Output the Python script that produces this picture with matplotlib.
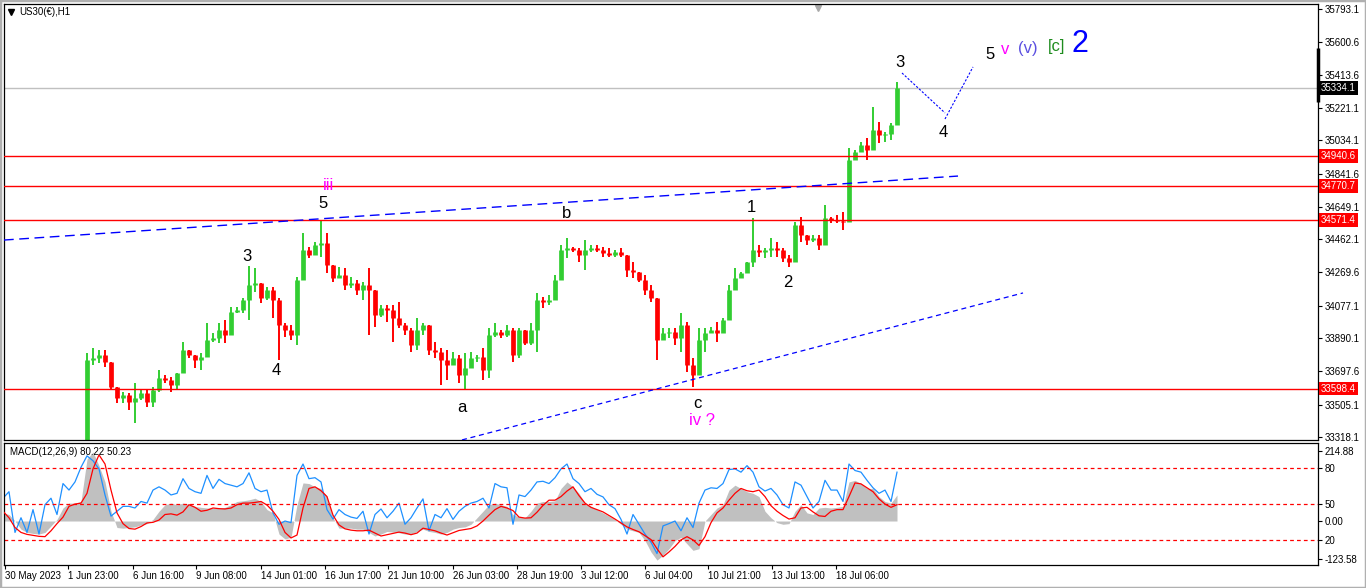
import numpy as np
import matplotlib
matplotlib.use("Agg")
from matplotlib import pyplot as plt
from matplotlib.patches import Rectangle

plt.rcParams['font.family'] = ['Liberation Sans', 'DejaVu Sans']

# US30 H1 price, one bar per 6 hours (first 14 bars sit below the visible range)
closes = [
    33200, 33185, 33150, 33120, 33140, 33105, 33130, 33170, 33150, 33190,
    33215, 33235, 33245, 33260, 33763, 33775, 33792, 33752, 33607, 33543,
    33561, 33520, 33543, 33572, 33520, 33590, 33659, 33647, 33619, 33688,
    33821, 33792, 33763, 33780, 33879, 33890, 33937, 33908, 34041, 34052,
    34110, 34197, 34208, 34122, 34168, 34110, 33966, 33937, 33908, 34226,
    34399, 34370, 34428, 34440, 34313, 34237, 34255, 34197, 34208, 34168,
    34197, 34168, 34023, 34064, 34052, 34006, 33966, 33937, 33850, 33937,
    33966, 33821, 33812, 33763, 33734, 33775, 33676, 33717, 33775, 33780,
    33705, 33908, 33925, 33908, 33937, 33792, 33937, 33861, 33937, 34110,
    34099, 34110, 34226, 34399, 34411, 34399, 34370, 34399, 34411, 34399,
    34382, 34370, 34388, 34370, 34284, 34272, 34226, 34168, 34122, 33879,
    33919, 33927, 33890, 33966, 33734, 33676, 33879, 33919, 33937, 33919,
    33994, 34168, 34237, 34266, 34330, 34399, 34388, 34399, 34411, 34399,
    34353, 34330, 34544, 34486, 34457, 34469, 34428, 34584, 34573, 34566,
    34561, 34920, 34966, 35007, 34978, 35093, 35064, 35072, 35122, 35334,
]
highs = [
    33230, 33215, 33200, 33160, 33170, 33145, 33160, 33200, 33190, 33220,
    33245, 33265, 33270, 33285, 33804, 33833, 33821, 33821, 33734, 33590,
    33578, 33572, 33630, 33590, 33590, 33607, 33705, 33676, 33665, 33688,
    33867, 33821, 33792, 33804, 33977, 33919, 33977, 33994, 34070, 34070,
    34122, 34307, 34295, 34168, 34185, 34185, 34122, 33977, 33966, 34243,
    34498, 34417, 34446, 34573, 34498, 34301, 34301, 34295, 34243, 34226,
    34214, 34295, 34139, 34081, 34081, 34081, 34099, 33977, 33948, 34006,
    33977, 33966, 33867, 33833, 33821, 33809, 33792, 33804, 33809, 33792,
    33833, 33948, 33977, 33937, 33966, 33948, 33948, 33937, 33977, 34151,
    34127, 34139, 34255, 34428, 34469, 34417, 34411, 34457, 34428, 34428,
    34417, 34411, 34399, 34411, 34370, 34330, 34272, 34255, 34197, 34099,
    33948, 33948, 33948, 34035, 33983, 33775, 33948, 33948, 33954, 33983,
    34006, 34197, 34295, 34272, 34330, 34584, 34428, 34411, 34469, 34446,
    34411, 34370, 34561, 34590, 34486, 34486, 34486, 34660, 34590, 34602,
    34619, 34989, 34978, 35024, 35047, 35226, 35140, 35082, 35134, 35371,
]
lows = [
    33170, 33150, 33120, 33090, 33100, 33080, 33095, 33120, 33120, 33140,
    33180, 33200, 33215, 33225, 33250, 33734, 33746, 33723, 33590, 33514,
    33514, 33474, 33399, 33532, 33491, 33491, 33578, 33630, 33578, 33590,
    33746, 33775, 33717, 33705, 33838, 33867, 33861, 33861, 33937, 34035,
    34035, 33994, 34156, 34093, 34110, 34006, 33763, 33896, 33879, 33850,
    34341, 34353, 34370, 34359, 34266, 34214, 34243, 34168, 34180, 34139,
    34110, 33908, 33954, 34012, 33983, 33867, 33948, 33908, 33809, 33821,
    33908, 33792, 33775, 33619, 33647, 33752, 33630, 33595, 33734, 33752,
    33647, 33659, 33896, 33890, 33896, 33752, 33775, 33850, 33850, 33809,
    34064, 34081, 34139, 34255, 34353, 34388, 34330, 34284, 34388, 34388,
    34359, 34359, 34359, 34359, 34243, 34237, 34214, 34139, 34099, 33763,
    33890, 33890, 33850, 33809, 33694, 33607, 33676, 33809, 33919, 33867,
    33948, 34023, 34214, 34237, 34272, 34301, 34359, 34353, 34359, 34359,
    34330, 34301, 34330, 34446, 34428, 34446, 34399, 34544, 34555, 34555,
    34515, 34561, 34931, 34966, 34920, 35024, 35018, 35024, 35035, 35180,
]

# MACD panel, same bars
macd_hist = [
    25, 20, 0, -25, -35, -38, -40, -35, -15, 5,
    40, 55, 55, 60, 190, 212, 170, 120, 30, -20,
    -22, -20, -18, -12, -8, 5, 30, 50, 55, 50,
    55, 52, 45, 42, 40, 40, 38, 42, 50, 60,
    62, 65, 70, 60, 35, 25, -40, -55, -50, 50,
    117, 115, 105, 100, 75, 10, -22, -22, -22, -25,
    -25, -35, -46, -40, -32, -34, -36, -40, -40, -32,
    -25, -32, -35, -40, -35, -25, -20, -18, -10, 10,
    30, 50, 55, 50, 45, 20, 12, 10, 30, 55,
    60, 60, 62, 100, 120, 105, 85, 55, 45, 35,
    25, 15, 5, -10, -25, -30, -35, -60, -95, -120,
    -105, -85, -60, -50, -70, -90, -85, 0, 20, 40,
    50, 95, 110, 100, 90, 85, 75, 30, 10, -5,
    -10, -8, 30, 50, 25, 20, 40, 42, 40, 42,
    45, 120, 125, 115, 100, 100, 75, 60, 55, 80,
]
macd_signal = [
    30, 10, -20, -35, -41, -44, -47, -48, -30, -8,
    12, 45, 52, 55, 85, 160, 203, 175, 95, 25,
    -8, -23, -25, -17, -6, -4, 3, 20, 22, 18,
    28, 50, 42, 30, 33, 40, 38, 37, 40, 50,
    55, 55, 57, 60, 49, 30, 5, -35, -52, -43,
    40, 100, 105, 93, 75, 18, -12, -24, -28, -30,
    -30, -28, -37, -46, -42, -38, -34, -37, -42, -37,
    -22, -26, -30, -37, -43, -36, -29, -26, -23, -15,
    0, 18, 35, 45, 40, 32, 12, 9, 10, 27,
    48, 64, 64, 75, 92, 105, 78, 55, 42, 35,
    28, 17, 6, -6, -18, -26, -33, -45, -57, -85,
    -110, -95, -78, -58, -48, -58, -75, -48, -5, 25,
    40, 64, 85, 100, 93, 90, 95, 75, 47, 30,
    17, 6, 10, 40, 42, 28, 16, 14, 30, 35,
    35, 75, 117, 114, 102, 90, 68, 52, 42, 50,
]
macd_fast = [
    70, 90, -35, 10, -35, 35, -40, 50, 70, 20,
    115, 95, 120, 165, 200, 185, 160, 80, 15, 30,
    45, 45, 40, 60, 55, 95, 105, 95, 80, 85,
    130, 100, 90, 85, 140, 100, 128, 115, 110, 105,
    115, 148, 100, 90, 95, 25, -10, 0, -5, 140,
    175, 130, 133, 120, 35, 6, 35, 20, 12, 8,
    30, -40, 20, 37, 10, 30, 55, -10, 10, 40,
    68, -30, 20, 10, 38, 5, 30, 45, 55, 60,
    70, 40, 115, 105, 102, -10, 80, 75, 95, 120,
    122, 115, 133, 160, 175, 130, 115, 90, 100, 82,
    74, 50, 38, 5, -40, 20, -10, -40, -65, -100,
    -15, -8, 0, -30, 10, -20, 55, 95, 102, 100,
    115, 158, 160, 150, 170, 150, 105, 92, 100, 80,
    50, 40, 120, 110, 75, 40, 60, 125, 95, 95,
    60, 175, 155, 150, 125, 102, 85, 95, 60, 150,
]

hours_per_bar = 6
first_bar_hour = 3

date_tick_hours = [5, 68, 133, 196, 261, 325, 388, 453, 517, 581, 645, 708, 772, 836]
date_tick_labels = ["30 May 2023", "1 Jun 23:00", "6 Jun 16:00", "9 Jun 08:00",
                    "14 Jun 01:00", "16 Jun 17:00", "21 Jun 10:00", "26 Jun 03:00",
                    "28 Jun 19:00", "3 Jul 12:00", "6 Jul 04:00", "10 Jul 21:00",
                    "13 Jul 13:00", "18 Jul 06:00"]

price_ticks = [35793.1, 35600.6, 35413.6, 35221.1, 35034.1, 34841.6, 34649.1,
               34462.1, 34269.6, 34077.1, 33890.1, 33697.6, 33505.1, 33318.1]
level_lines = [34940.6, 34770.7, 34571.4, 33598.4]
last_price = 35334.1

upper_trend = ([4, 958], [34457, 34827])
lower_trend = ([462, 1023], [33301, 34151])
wave_path_down = ([902, 945], [35423, 35192])
wave_path_up = ([945, 973], [35157, 35458])

label_texts = ["iii", "5", "3", "4", "a", "b", "c", "iv ?", "1", "2", "3", "4",
               "5", "v", "(v)", "[c]", "2"]
label_hours = [329, 323, 247, 276, 462, 567, 697, 702, 751, 788, 900, 943,
               990, 1005, 1028, 1057, 1080]
label_prices = [34770, 34671, 34359, 33705, 33486, 34613, 33514, 33411, 34648, 34214,
                35486, 35076, 35530, 35557, 35562, 35575, 35591]
label_colors = ["#FF00FF", "black", "black", "black", "black", "black", "black", "#FF00FF",
                "black", "black", "black", "black", "black", "#FF00FF", "#5B4FE0",
                "#1E8C1E", "#0000FF"]
label_sizes = [12, 12, 12, 12, 12, 12, 12, 12, 12, 12, 12, 12, 12, 12, 12, 12, 22]

macd_ticks = [215, 163, 52, 0, -58, -118]
macd_tick_labels = ["214.88", "80", "50", "0.00", "20", "-123.58"]
macd_levels = [163, 52, -58]

W, H = 1366, 588


def box(x0, y0, x1, y1):
    return [x0 / W, 1 - y1 / H, (x1 - x0) / W, (y1 - y0) / H]


fig = plt.figure(figsize=(W / 100, H / 100), dpi=100)
fig.patch.set_facecolor('white')
ax = fig.add_axes(box(4, 4, 1318, 440))
ax2 = fig.add_axes(box(4, 443, 1318, 565))

closes = np.array(closes, float)
highs = np.array(highs, float)
lows = np.array(lows, float)
n = len(closes)
x = first_bar_hour + hours_per_bar * np.arange(n)
opens = np.r_[closes[0], closes[:-1]]
cols = np.where(closes > opens, '#32CD32', np.where(closes < opens, '#FF0000', 'black'))
top = np.maximum(highs, np.maximum(opens, closes))
bot = np.minimum(lows, np.minimum(opens, closes))

ax.vlines(x, bot, top, colors=cols, lw=1.4, zorder=2)
ax.vlines(x, np.minimum(opens, closes), np.maximum(opens, closes), colors=cols, lw=3.4, zorder=2)

# horizontal levels and trend lines
for lvl in level_lines:
    ax.axhline(lvl, color='#FF0000', lw=1, zorder=3)
    ax.annotate(f"{lvl:.1f}", xy=(1, lvl), xycoords=ax.get_yaxis_transform(),
                xytext=(2, 0), textcoords='offset points', ha='left', va='center',
                fontsize=7, color='white', annotation_clip=False,
                bbox=dict(boxstyle='square,pad=0.2', fc='#FF0000', ec='none'))
ax.axhline(last_price, color='#C0C0C0', lw=1, zorder=1)
ax.annotate(f"{last_price:.1f}", xy=(1, last_price), xycoords=ax.get_yaxis_transform(),
            xytext=(2, 0), textcoords='offset points', ha='left', va='center',
            fontsize=7, color='white', annotation_clip=False,
            bbox=dict(boxstyle='square,pad=0.2', fc='black', ec='none'))

ax.plot(*upper_trend, color='#0000FF', lw=1, linestyle=(0, (7, 4)), zorder=3)
ax.plot(*lower_trend, color='#0000FF', lw=0.9, linestyle=(0, (4, 3)), zorder=3)
ax.plot(*wave_path_down, color='#0000FF', lw=0.8, linestyle=(0, (2, 1.5)), zorder=3)
ax.plot(*wave_path_up, color='#0000FF', lw=0.8, linestyle=(0, (2, 1.5)), zorder=3)

for t, hx, pr, c, s in zip(label_texts, label_hours, label_prices, label_colors, label_sizes):
    ax.text(hx, pr, t, color=c, fontsize=s, ha='center', va='center', zorder=4)

ax.set_xlim(4, 1318)
ax.set_ylim(33300.6, 35822)
ax.set_xticks([])
ax.yaxis.tick_right()
ax.set_yticks(price_ticks)
ax.set_yticklabels([f"{p:.1f}" for p in price_ticks])
ax.tick_params(axis='y', direction='out', length=3, width=0.8, labelsize=7, pad=2)

# marker bits of the terminal
ax.plot([1, 1], [35567, 35255], transform=ax.get_yaxis_transform(), color='black',
        lw=2.5, clip_on=False, solid_capstyle='butt')
ax.plot([7 / 1314], [1 - 8 / 436], transform=ax.transAxes, marker='v', ms=4,
        color='black', clip_on=False)
ax.plot([818], [1 - 4 / 436], transform=ax.get_xaxis_transform(), marker='v', ms=5,
        color='#A9A9A9', clip_on=False)
fig.text(19 / W, 1 - 12 / H, "US30(€),H1", fontsize=7, va='center', ha='left')

# MACD
ax2.fill_between(x, 0, macd_hist, color='#C0C0C0', lw=0, zorder=1)
ax2.plot(x, macd_fast, color='#1E90FF', lw=0.9, zorder=2)
ax2.plot(x, macd_signal, color='#FF0000', lw=0.9, zorder=3)
for lv in macd_levels:
    ax2.axhline(lv, color='#FF0000', lw=0.9, linestyle=(0, (3, 2.5)), zorder=2)
ax2.set_xlim(4, 1318)
ax2.set_ylim(-135, 239.5)
ax2.yaxis.tick_right()
ax2.set_yticks(macd_ticks)
ax2.set_yticklabels(macd_tick_labels)
ax2.tick_params(axis='y', direction='out', length=3, width=0.8, labelsize=7, pad=2)
ax2.set_xticks(date_tick_hours)
ax2.set_xticklabels(date_tick_labels)
ax2.tick_params(axis='x', direction='out', length=3, width=0.8, labelsize=7, pad=1.5)
for lbl in ax2.get_xticklabels():
    lbl.set_horizontalalignment('left')
fig.text(10 / W, 1 - 452 / H, "MACD(12,26,9) 80.22 50.23", fontsize=7, va='center')

for a in (ax, ax2):
    for sp in a.spines.values():
        sp.set_color('black')
        sp.set_linewidth(0.9)

fig.patches.append(Rectangle((0, 0), 1, 1, transform=fig.transFigure, fill=False,
                             ec='#B0B0B0', lw=2.5))

fig.savefig("out.png", dpi=100)
